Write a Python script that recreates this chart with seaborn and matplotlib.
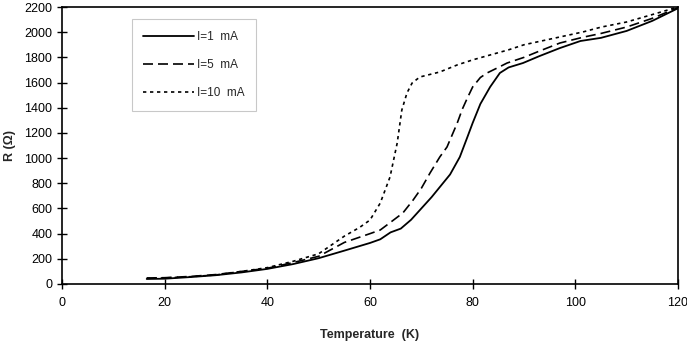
import matplotlib
matplotlib.use("Agg")
import matplotlib.pyplot as plt
import seaborn as sns
import pandas as pd

# I = 1 mA
t_1ma = [16.5, 20, 25, 30, 35, 40, 45, 50, 55, 60, 62, 64, 66, 68, 70, 72, 74, 75.6, 77.5, 79, 80,
         81.5, 83.4, 85.3, 87, 89.8, 93, 97, 101, 105, 110, 115, 120]
r_1ma = [40, 42, 55, 70, 92, 120, 158, 205, 265, 326, 355, 410, 440, 510, 600, 690, 790, 870, 1009,
         1170, 1279, 1430, 1565, 1676, 1720, 1755, 1810, 1874, 1930, 1955, 2010, 2090, 2190]
# I = 5 mA
t_5ma = [16.5, 20, 25, 30, 35, 40, 45, 50, 55, 60, 62, 64, 66.4, 68.4, 70, 71.7, 73.6, 75, 77, 78, 79,
         80, 81.5, 82.8, 85, 86.7, 90, 93, 97, 101.5, 105, 110, 115, 120]
r_5ma = [48, 50, 60, 75, 100, 125, 170, 220, 330, 400, 429, 490, 564, 667, 760, 882, 1009, 1088, 1279,
         1390, 1480, 1565, 1640, 1676, 1720, 1755, 1800, 1850, 1914, 1960, 1990, 2041, 2110, 2195]
# I = 10 mA
t_10ma = [16.5, 20, 25, 30, 35, 40, 45, 50, 55, 58, 60, 62, 63.9, 65.3, 66.2, 67.2, 68.2, 69.7, 73.6,
          77, 80, 83.4, 87, 90, 97, 101.5, 105, 110, 115, 120]
r_10ma = [45, 48, 58, 72, 100, 130, 180, 240, 380, 450, 508, 643, 850, 1120, 1382, 1517, 1596, 1644,
          1684, 1740, 1780, 1819, 1860, 1900, 1962, 2002, 2040, 2081, 2140, 2200]

labels = ["I=1  mA", "I=5  mA", "I=10  mA"]
x_ticks = [0, 20, 40, 60, 80, 100, 120]
y_ticks = list(range(0, 2201, 200))

sns.set_theme(style="ticks")
plt.rcParams['font.family'] = ['Liberation Sans', 'DejaVu Sans']

fig = plt.figure(figsize=(6.87, 3.41), dpi=100)
ax = fig.add_axes([62/687, 1-284/341, (678-62)/687, (284-7)/341])

series = [(t_1ma, r_1ma, (None, None), 1.3),
          (t_5ma, r_5ma, (6, 3), 1.2),
          (t_10ma, r_10ma, (2, 2.2), 1.2)]
for (t, r, dash, lw), lab in zip(series, labels):
    df = pd.DataFrame({"T": t, "R": r})
    sns.lineplot(data=df, x="T", y="R", ax=ax, color="black", linewidth=lw, label=lab)
    line = ax.get_lines()[-1]
    if dash[0] is not None:
        line.set_dashes(dash)

ax.set_xlim(0, 120)
ax.set_ylim(0, 2200)
ax.set_xticks(x_ticks)
ax.set_yticks(y_ticks)
ax.set_xticklabels([str(v) for v in x_ticks])
ax.tick_params(axis='both', direction='inout', length=7, width=1, labelsize=9, colors='black')
ax.tick_params(axis='x', pad=6)
for s in ax.spines.values():
    s.set_color('black')
    s.set_linewidth(1.2)

ax.set_xlabel("Temperature  (K)", fontsize=9, fontweight='bold', labelpad=14)
ax.set_ylabel("R (Ω)", fontsize=9, fontweight='bold', labelpad=6)

leg = ax.legend(loc='upper left', bbox_to_anchor=(0.113, 0.955), frameon=True, fancybox=False,
                fontsize=8.5, handlelength=4.3, handletextpad=0.2, labelspacing=1.35,
                borderpad=1.0, borderaxespad=0)
leg.get_frame().set_edgecolor('#bbbbbb')
leg.get_frame().set_linewidth(0.8)

fig.savefig("out.png", dpi=100)
